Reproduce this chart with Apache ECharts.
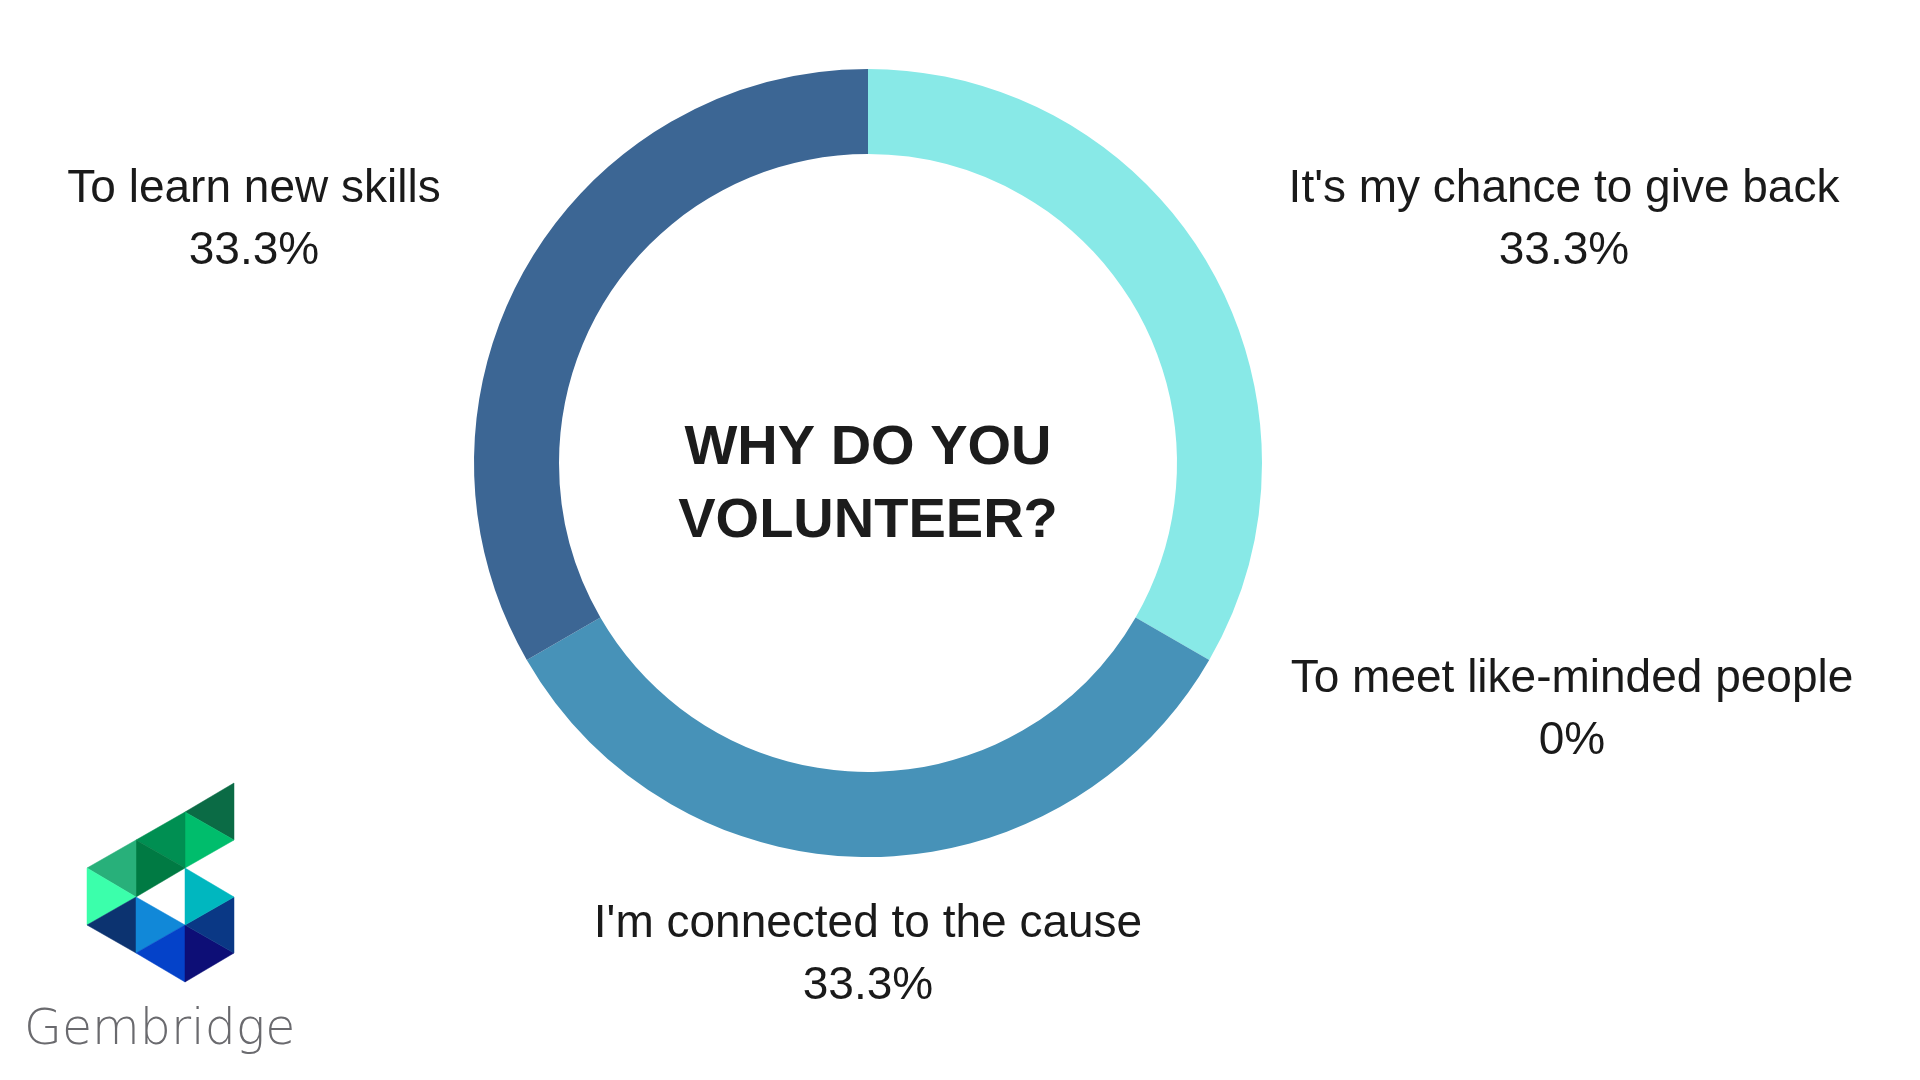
<!DOCTYPE html>
<html>
<head>
<meta charset="utf-8">
<script src="https://cdn.jsdelivr.net/npm/echarts@6/dist/echarts.min.js"></script>
<style>
  html, body { margin: 0; padding: 0; background: #ffffff; }
  #chart { width: 1920px; height: 1080px; }
</style>
</head>
<body>
<div id="chart"></div>
<script>
// ---- data ----
const categories = [
  "It's my chance to give back",
  "To meet like-minded people",
  "I'm connected to the cause",
  "To learn new skills"
];
const values = [33.3, 0, 33.3, 33.3];
const colors = ['#88E9E7', '#5AA7C9', '#4792B8', '#3C6694'];
const centerTitle = 'WHY DO YOU\nVOLUNTEER?';
const brandName = 'Gembridge';

// ---- label placement (pixel anchors for each category label block) ----
const labelAnchors = [
  [1564, 220],
  [1572, 710],
  [868, 955],
  [254, 220]
];

// ---- logo triangles (decoration) ----
const logoTris = [
  [[[185,812],[234,783],[234,840]], '#0B6B45'],
  [[[185,812],[234,840],[185,868]], '#00BD6C'],
  [[[136,840],[185,812],[185,868]], '#008F52'],
  [[[136,840],[185,868],[136,897]], '#007A43'],
  [[[87,868],[136,840],[136,897]], '#28B07A'],
  [[[87,868],[136,897],[87,925]], '#3BFFAB'],
  [[[87,925],[136,897],[136,953]], '#0C3370'],
  [[[136,897],[185,925],[136,953]], '#1188D8'],
  [[[136,953],[185,925],[185,982]], '#0442C9'],
  [[[185,925],[234,953],[185,982]], '#0D0E76'],
  [[[185,925],[234,897],[234,953]], '#0A3885'],
  [[[185,868],[234,897],[185,925]], '#00B7BF']
];

const chart = echarts.init(document.getElementById('chart'), null, { renderer: 'canvas' });

const graphics = logoTris.map(t => ({
  type: 'polygon',
  shape: { points: t[0] },
  style: { fill: t[1], stroke: t[1], lineWidth: 0.5 },
  silent: true
}));
graphics.push({
  type: 'text',
  x: 868, y: 485,
  style: {
    text: centerTitle,
    fill: '#1c1c1c',
    font: 'bold 56px "Liberation Sans", Arial, sans-serif',
    lineHeight: 73,
    align: 'center',
    verticalAlign: 'middle'
  },
  silent: true
});
graphics.push({
  type: 'text',
  x: 24, y: 1031,
  style: {
    text: brandName,
    fill: '#6A6A6E',
    font: '300 49px "DejaVu Sans", sans-serif',
    align: 'left',
    verticalAlign: 'middle'
  },
  silent: true
});

chart.setOption({
  backgroundColor: '#ffffff',
  animation: false,
  graphic: graphics,
  series: [{
    type: 'pie',
    center: [868, 463],
    radius: [309, 394],
    startAngle: 90,
    clockwise: true,
    avoidLabelOverlap: false,
    silent: true,
    stillShowZeroSum: true,
    itemStyle: { borderWidth: 0 },
    label: {
      show: true,
      position: 'outside',
      formatter: p => p.name + '\n' + p.value + '%',
      color: '#1a1a1a',
      fontFamily: '"Liberation Sans", Arial, sans-serif',
      fontSize: 46,
      lineHeight: 62,
      align: 'center'
    },
    labelLine: { show: false },
    labelLayout: function (params) {
      const a = labelAnchors[params.dataIndex];
      return { x: a[0], y: a[1], align: 'center', verticalAlign: 'middle' };
    },
    data: categories.map((c, i) => ({
      name: c,
      value: values[i],
      itemStyle: { color: colors[i] }
    }))
  }]
});
</script>
</body>
</html>
